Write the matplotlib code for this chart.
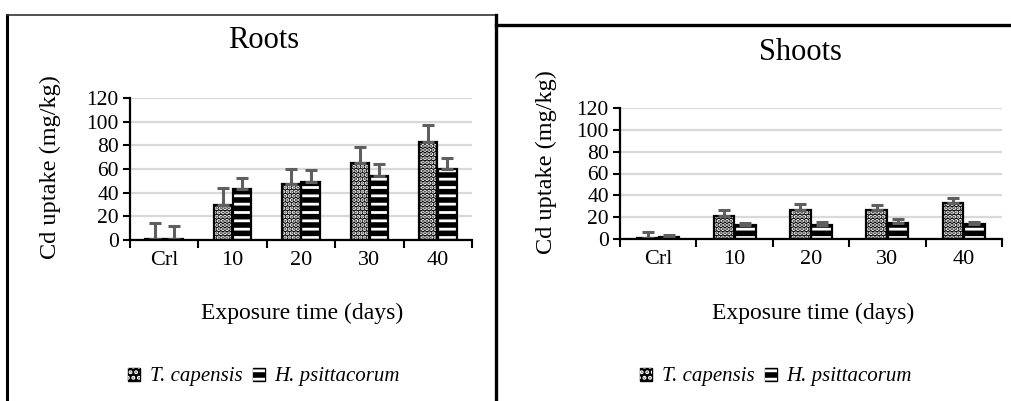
import matplotlib
matplotlib.use('Agg')
import matplotlib.pyplot as plt
import numpy as np
from matplotlib.patches import Patch
from matplotlib.lines import Line2D
from matplotlib.legend_handler import HandlerTuple

# ---------------- data ----------------
categories = ['Crl', '10', '20', '30', '40']
yticks = [0, 20, 40, 60, 80, 100, 120]

roots_tc = [1, 30, 47, 65, 83]
roots_tc_err = [13, 14, 13, 14, 14]
roots_hp = [1, 43, 49, 54, 60]
roots_hp_err = [11, 9, 10, 10, 9]

shoots_tc = [1, 21, 27, 27, 33]
shoots_tc_err = [5.5, 5.5, 5, 4, 5]
shoots_hp = [2, 12.5, 13, 15, 14]
shoots_hp_err = [1.5, 2.5, 3, 3, 2]

series_names = ['T. capensis', 'H. psittacorum']

# ---------------- style ----------------
plt.rcParams['font.family'] = ['Liberation Serif', 'DejaVu Serif']
plt.rcParams['hatch.linewidth'] = 2.0

W, H = 1012, 401
fig = plt.figure(figsize=(W / 100, H / 100), dpi=100)


def fx(px):
    return px / W


def fy(py):
    return 1 - py / H


def hatched_bar(ax, x, vals, w, hatch):
    ax.bar(x, vals, w, color='black', linewidth=0, zorder=2)
    ax.bar(x, vals, w, color='none', edgecolor='white', hatch=hatch,
           linewidth=0, zorder=3)
    ax.bar(x, vals, w, color='none', edgecolor='black', linewidth=1.6, zorder=4)


def panel(rect, tc, tce, hp, hpe):
    ax = fig.add_axes(rect)
    x = np.arange(len(categories))
    w = 0.27
    off = 0.14
    hatched_bar(ax, x - off, tc, w, '....')
    hatched_bar(ax, x + off, hp, w, '--')
    zeros = np.zeros(len(categories))
    ax.errorbar(x - off, tc, yerr=[zeros, tce], fmt='none', ecolor='#5f5f5f',
                elinewidth=2.2, capsize=4.5, capthick=2.2, zorder=5)
    ax.errorbar(x + off, hp, yerr=[zeros, hpe], fmt='none', ecolor='#5f5f5f',
                elinewidth=2.2, capsize=4.5, capthick=2.2, zorder=5)
    ax.set_xlim(-0.5, len(categories) - 0.5)
    ax.set_ylim(0, 120)
    ax.set_yticks(yticks)
    ax.set_yticklabels([str(t) for t in yticks])
    ax.set_xticks(np.arange(-0.5, len(categories), 1.0))
    ax.set_xticklabels([])
    ax.set_xticks(x, minor=True)
    ax.set_xticklabels(categories, minor=True)
    ax.tick_params(axis='x', which='major', length=6, width=1.5, direction='out')
    ax.tick_params(axis='x', which='minor', length=0, pad=8, labelsize=16)
    ax.tick_params(axis='y', length=5, width=1.5, direction='out', pad=3,
                   labelsize=15.5)
    ax.set_axisbelow(True)
    ax.yaxis.grid(True, color='#d9d9d9', linewidth=1.6, zorder=0)
    for s in ['top', 'right']:
        ax.spines[s].set_visible(False)
    for s in ['left', 'bottom']:
        ax.spines[s].set_linewidth(1.6)
        ax.spines[s].set_color('black')
        ax.spines[s].set_zorder(6)
    return ax


ax1 = panel([fx(130), fy(240), fx(472) - fx(130), fy(98) - fy(240)],
            roots_tc, roots_tc_err, roots_hp, roots_hp_err)
ax2 = panel([fx(620), fy(239), fx(1002) - fx(620), fy(108) - fy(239)],
            shoots_tc, shoots_tc_err, shoots_hp, shoots_hp_err)

# titles and labels
fig.text(fx(264), fy(40), 'Roots', ha='center', va='center', fontsize=22)
fig.text(fx(800), fy(52), 'Shoots', ha='center', va='center', fontsize=22)
fig.text(fx(50), fy(167), 'Cd uptake (mg/kg)', ha='center', va='center',
         rotation=90, fontsize=17.5)
fig.text(fx(546), fy(162), 'Cd uptake (mg/kg)', ha='center', va='center',
         rotation=90, fontsize=17.5)
fig.text(fx(302), fy(313), 'Exposure time (days)', ha='center', va='center',
         fontsize=17)
fig.text(fx(813), fy(313), 'Exposure time (days)', ha='center', va='center',
         fontsize=17)


def legend_handle(hatch):
    base = Patch(facecolor='black', edgecolor='black', linewidth=1.0)
    pat = Patch(facecolor='none', edgecolor='white', hatch=hatch, linewidth=0)
    return (base, pat)


# legends
for cx in (264, 776):
    handles = [legend_handle('...'), legend_handle('--')]
    fig.legend(handles, series_names, loc='center', bbox_to_anchor=(fx(cx), fy(377)),
               ncol=2, frameon=False, handlelength=0.6, handleheight=0.6,
               handletextpad=0.45, columnspacing=0.5,
               handler_map={tuple: HandlerTuple(ndivide=1, pad=0)},
               prop={'style': 'italic', 'size': 15})

# frames around panels
fig.add_artist(Line2D([fx(7), fx(7)], [fy(15), fy(401)], color='black', lw=2.2))
fig.add_artist(Line2D([fx(7), fx(496)], [fy(15), fy(15)], color='#333333', lw=1.2))
fig.add_artist(Line2D([fx(496), fx(496)], [fy(15), fy(401)], color='black', lw=2.4))
fig.add_artist(Line2D([fx(496), fx(1012)], [fy(25), fy(25)], color='black', lw=2.4))

fig.savefig('out.png', dpi=100)
